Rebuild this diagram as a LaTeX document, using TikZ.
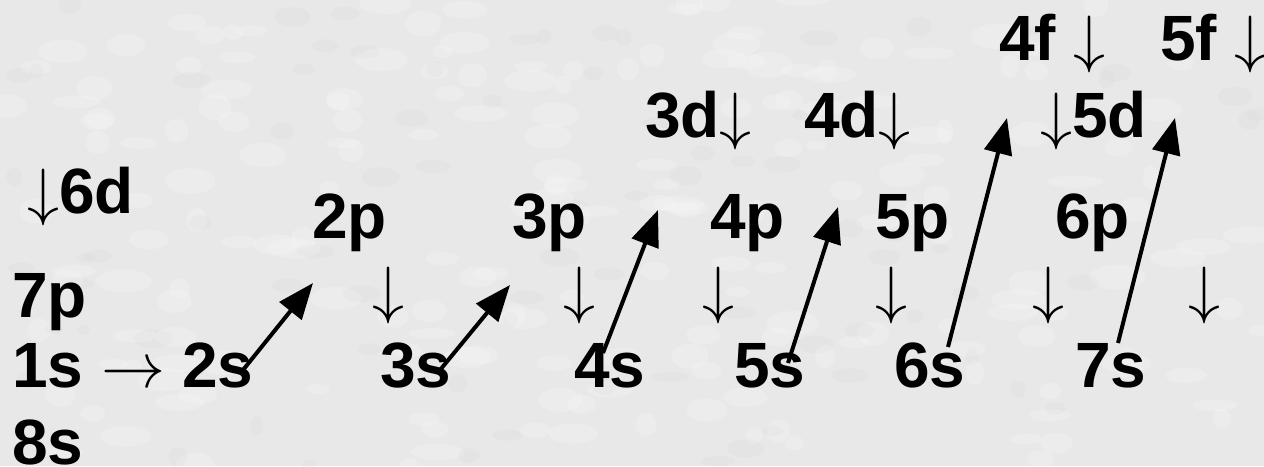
\documentclass[tikz,border=0pt]{standalone}
\usepackage{fix-cm}
\usepackage{fontspec}
\setmainfont{Liberation Sans}
\usepackage{xcolor}
\usetikzlibrary{arrows.meta,positioning,calc}
\definecolor{bggray}{HTML}{E8E8E8}

\begin{document}
\begin{tikzpicture}[x=1pt,y=-1pt,
    orb/.style={anchor=base west, inner sep=0pt, font=\fontsize{64}{70}\selectfont\bfseries},
    fillarrow/.style={line width=4pt, -{Triangle[length=36pt,width=28pt]}}]
  \useasboundingbox (0,0) rectangle (1264,466);
  \begin{scope}
    \clip (0,0) rectangle (1264,466);
    \fill[bggray] (0,0) rectangle (1264,466);
    \pgfmathsetseed{7}
    \foreach \i in {1,...,200}
      \fill[white,opacity=0.18] (1264*rnd,466*rnd) ellipse ({8+20*rnd} and {5+8*rnd});
    \foreach \i in {1,...,80}
      \fill[black!25,opacity=0.08] (1264*rnd,466*rnd) ellipse ({6+14*rnd} and {4+6*rnd});
  \end{scope}

  \node[orb] (n6d) at (27,213) {$\downarrow$6d};
  \node[orb] (n7p) at (12,317) {7p};
  \node[orb] (n1s) at (12,387) {1s $\rightarrow$};
  \node[orb] (n8s) at (12,464) {8s};

  \node[orb] (n2s) at (182,387) {2s};
  \node[orb] (n3s) at (380,387) {3s};
  \node[orb] (n4s) at (574,387) {4s};
  \node[orb] (n5s) at (734,387) {5s};
  \node[orb] (n6s) at (894,387) {6s};
  \node[orb] (n7s) at (1075,387) {7s};

  \node[orb] (n2p) at (312,238) {2p};
  \node[orb] (n3p) at (512,238) {3p};
  \node[orb] (n4p) at (710,238) {4p};
  \node[orb] (n5p) at (875,238) {5p};
  \node[orb] (n6p) at (1055,238) {6p};

  \node[orb] (d2p) at (372,311) {$\downarrow$};
  \node[orb] (d3p) at (563,311) {$\downarrow$};
  \node[orb] (d4p) at (702,311) {$\downarrow$};
  \node[orb] (d5p) at (875,311) {$\downarrow$};
  \node[orb] (d6p) at (1032,311) {$\downarrow$};
  \node[orb] (d7p) at (1188,311) {$\downarrow$};

  \node[orb] (n3d) at (645,137) {3d$\downarrow$};
  \node[orb] (n4d) at (804,137) {4d$\downarrow$};
  \node[orb] (n5d) at (1040,137) {$\downarrow$5d};

  \node[orb] (n4f) at (999,60) {4f $\downarrow$};
  \node[orb] (n5f) at (1160,60) {5f $\downarrow$};

  \draw[fillarrow] ([shift={(61,-17)}]n2s.base west) -- ([shift={(1,45)}]n2p.base west);
  \draw[fillarrow] ([shift={(60,-17)}]n3s.base west) -- ([shift={(-2,47)}]n3p.base west);
  \draw[fillarrow] ([shift={(29,-34)}]n4s.base west) -- ([shift={(13,73)}]n3d.base west);
  \draw[fillarrow] ([shift={(54,-24)}]n5s.base west) -- ([shift={(34,70)}]n4d.base west);
  \draw[fillarrow] ([shift={(54,-40)}]n6s.base west) -- ([shift={(8,58)}]n4f.base west);
  \draw[fillarrow] ([shift={(43,-44)}]n7s.base west) -- ([shift={(15,58)}]n5f.base west);
\end{tikzpicture}
\end{document}
